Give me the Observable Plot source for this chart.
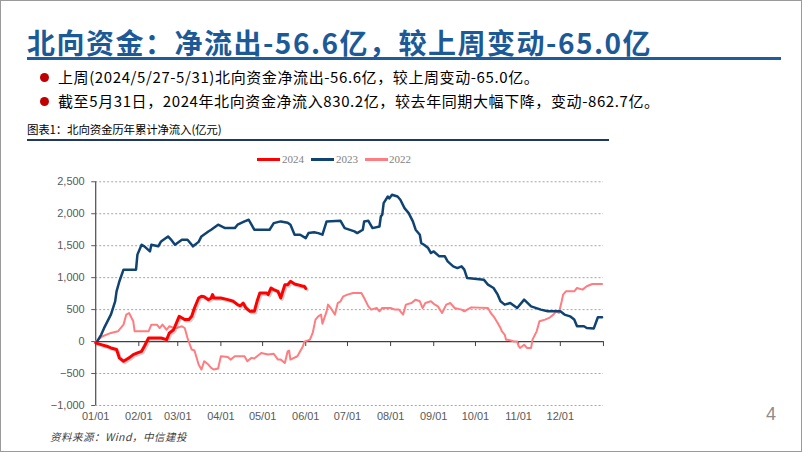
<!DOCTYPE html>
<html><head><meta charset="utf-8">
<script src="https://cdn.jsdelivr.net/npm/d3@7"></script>
<script src="https://cdn.jsdelivr.net/npm/@observablehq/plot@0.6"></script>
<style>
html,body{margin:0;padding:0;background:#fff;}
#page{position:relative;width:802px;height:452px;box-sizing:border-box;border:1px solid #9a9a9a;overflow:hidden;font-family:"Noto Sans CJK SC",sans-serif;background:#fff;}
.abs{position:absolute;white-space:nowrap;}
#title{left:26px;top:22px;font-size:28px;font-weight:bold;color:#1C5A97;line-height:38px;letter-spacing:1.5px;}
#tline{left:26px;top:56px;width:754px;height:3px;background:#1F5C99;}
.dot{width:9px;height:9px;border-radius:50%;background:#C00000;}
.bul{font-size:15px;color:#000;line-height:20px;letter-spacing:0.6px;}
#cap{left:26px;top:119px;font-size:11.5px;color:#000;line-height:18px;letter-spacing:-0.2px;}
#cline{left:26px;top:138px;width:582px;height:2px;background:#1F3864;}
#chart{left:-1px;top:159px;}
.leg{font-family:"Liberation Serif","DejaVu Serif",serif;font-size:11px;color:#7f7f7f;line-height:14px;}
.legline{height:3px;}
#foot{left:49px;top:429px;font-size:10.5px;font-style:italic;color:#404040;line-height:14px;letter-spacing:0.5px;}
#pg{left:765px;top:402px;font-size:18px;color:#8c8c8c;font-family:"Liberation Sans",Arial,sans-serif;line-height:22px;}
</style>
</head><body>
<div id="page">
  <div class="abs" id="title">北向资金：净流出-56.6亿，较上周变动-65.0亿</div>
  <div class="abs" id="tline"></div>
  <div class="abs dot" style="left:39px;top:72px;"></div>
  <div class="abs bul" style="left:57px;top:66px;">上周(2024/5/27-5/31)北向资金净流出-56.6亿，较上周变动-65.0亿。</div>
  <div class="abs dot" style="left:39px;top:96px;"></div>
  <div class="abs bul" style="left:57px;top:90px;">截至5月31日，2024年北向资金净流入830.2亿，较去年同期大幅下降，变动-862.7亿。</div>
  <div class="abs" id="cap">图表1：北向资金历年累计净流入(亿元)</div>
  <div class="abs" id="cline"></div>
  <div class="abs legline" style="left:256px;top:157px;width:23px;background:#FF0000;"></div>
  <div class="abs leg" style="left:281px;top:151px;">2024</div>
  <div class="abs legline" style="left:310px;top:157px;width:23px;background:#0F4372;"></div>
  <div class="abs leg" style="left:335px;top:151px;">2023</div>
  <div class="abs legline" style="left:364px;top:157px;width:23px;background:#FF7C80;"></div>
  <div class="abs leg" style="left:388px;top:151px;">2022</div>
  <div class="abs" id="chart"></div>
  <div class="abs" id="foot">资料来源：Wind，中信建投</div>
  <div class="abs" id="pg">4</div>
</div>
<script>
// Day-of-year offsets and cumulative net inflow (亿元)
const days2024 = [0,4,8,11,15,17,20,22,24,27,30,33,35,38,44,47,51,53,56,58,60,64,67,69,71,74,76,78,81,83,84,85,90,95,99,102,104,106,108,111,114,116,118,123,124,126,128,131,133,136,138,140,143,145,149,150,151];
const vals2024 = [-20,-47,-73,-100,-125,-256,-308,-280,-256,-203,-178,-152,-73,56,56,56,30,135,185,290,395,344,344,395,525,681,708,700,656,680,734,681,681,656,630,578,560,603,525,473,473,630,760,760,734,838,813,786,681,890,890,942,900,890,865,865,830];

const days2023 = [1,4,6,11,14,15,17,20,29,30,33,35,39,40,45,47,52,54,57,62,66,70,74,76,81,83,88,93,100,102,107,110,112,114,125,128,133,138,140,143,147,151,153,157,160,163,166,176,179,186,188,192,193,196,199,204,205,206,207,210,211,213,217,219,222,225,228,230,233,234,236,239,241,243,247,251,253,257,260,263,265,267,279,282,286,289,291,294,298,303,308,313,320,325,334,337,341,344,346,351,353,358,361,364];
const vals2023 = [0,110,210,425,630,785,940,1125,1125,1360,1515,1490,1410,1515,1490,1567,1645,1600,1515,1594,1594,1490,1560,1645,1723,1750,1828,1775,1775,1828,1880,1906,1828,1750,1750,1853,1880,1860,1828,1672,1672,1619,1697,1710,1697,1672,1880,1890,1775,1723,1697,1750,1880,1890,1775,1800,1958,1984,2165,2270,2240,2297,2270,2219,2088,2010,1880,1750,1672,1541,1515,1463,1385,1410,1333,1333,1255,1177,1150,1177,1125,994,969,890,838,734,630,578,603,525,656,551,500,473,473,422,395,344,239,239,212,203,380,380];

const days2022 = [0,5,11,16,20,22,24,27,28,38,40,44,46,48,51,53,56,58,62,64,66,69,71,74,76,78,81,83,85,88,90,95,97,100,107,109,112,114,119,124,128,131,133,136,138,139,140,145,149,150,154,156,158,160,162,163,166,167,169,172,174,176,178,181,185,191,193,196,198,202,204,206,212,215,218,221,223,227,230,233,235,237,241,243,246,249,252,255,258,263,265,267,270,282,284,286,289,291,292,294,295,296,301,303,304,305,308,310,313,314,317,319,323,326,329,331,333,335,336,338,344,346,350,353,357,364];
const vals2022 = [0,83,135,160,265,422,447,317,160,160,265,265,212,265,185,240,212,212,239,212,56,-125,-140,-360,-438,-308,-360,-412,-438,-420,-230,-240,-282,-230,-230,-308,-255,-265,-178,-203,-190,-282,-282,-334,-152,-140,-282,-230,-73,0,30,135,344,395,422,280,473,578,525,422,603,630,708,734,760,760,681,551,500,525,473,525,525,500,500,422,578,603,656,630,525,603,630,590,551,447,578,603,525,500,473,500,535,525,447,395,290,212,160,110,30,30,0,0,-73,-100,-50,-100,-100,30,160,317,344,370,422,473,447,630,734,786,786,838,813,865,900,900];

const monthLabels = ["01/01","02/01","03/01","04/01","05/01","06/01","07/01","08/01","09/01","10/01","11/01","12/01"];
const yTicks = [-1000,-500,0,500,1000,1500,2000,2500];

const start = new Date(Date.UTC(2023,0,1));
const end = new Date(Date.UTC(2024,0,1));
const dayToDate = d => new Date(Date.UTC(2023,0,1+d));
const toRows = (ds, vs) => ds.map((d,i) => ({date: dayToDate(d), value: vs[i]}));
const d2024 = toRows(days2024, vals2024);
const d2023 = toRows(days2023, vals2023);
const d2022 = toRows(days2022, vals2022);
const monthDates = monthLabels.map(s => new Date(Date.UTC(2023, +s.slice(0,2)-1, +s.slice(3))));
const tickDates = [...monthDates, end];
const fmt = d3.utcFormat("%m/%d");

const chart = Plot.plot({
  width: 802, height: 272,
  marginLeft: 95.3, marginRight: 198.3, marginTop: 21.3, marginBottom: 26.7,
  x: {type: "utc", domain: [start, end]},
  y: {domain: [-1000, 2500]},
  style: {fontFamily: "'Liberation Sans', Arial, sans-serif", fontSize: "11px", color: "#595959", background: "transparent"},
  marks: [
    Plot.ruleY(yTicks.filter(v => v !== 0), {stroke: "#a6a6a6", strokeDasharray: "2,2", strokeWidth: 1}),
    Plot.axisY({ticks: yTicks, tickFormat: d3.format(","), tickSize: 4, tickPadding: 7, label: null, stroke: "#595959"}),
    Plot.ruleX([start], {stroke: "#595959", strokeWidth: 1.3}),
    Plot.axisX({ticks: monthDates, tickFormat: fmt, tickSize: 0, tickPadding: 7, label: null}),
    Plot.ruleX(tickDates, {x: d => d, y1: 0, y2: 0, insetBottom: -5, stroke: "#404040"}),
    Plot.ruleY([0], {stroke: "#404040", strokeWidth: 1.3}),
    Plot.line(d2022, {x: "date", y: "value", stroke: "#FF7C80", strokeWidth: 2}),
    Plot.line(d2023, {x: "date", y: "value", stroke: "#0F4372", strokeWidth: 2.5}),
    Plot.line(d2024, {x: "date", y: "value", stroke: "#7a7a7a", strokeOpacity: 0.35, strokeWidth: 3, dx: 1.5, dy: 1.5}),
    Plot.line(d2024, {x: "date", y: "value", stroke: "#FF0000", strokeWidth: 3})
  ]
});
document.getElementById("chart").appendChild(chart);
</script>
</body></html>
